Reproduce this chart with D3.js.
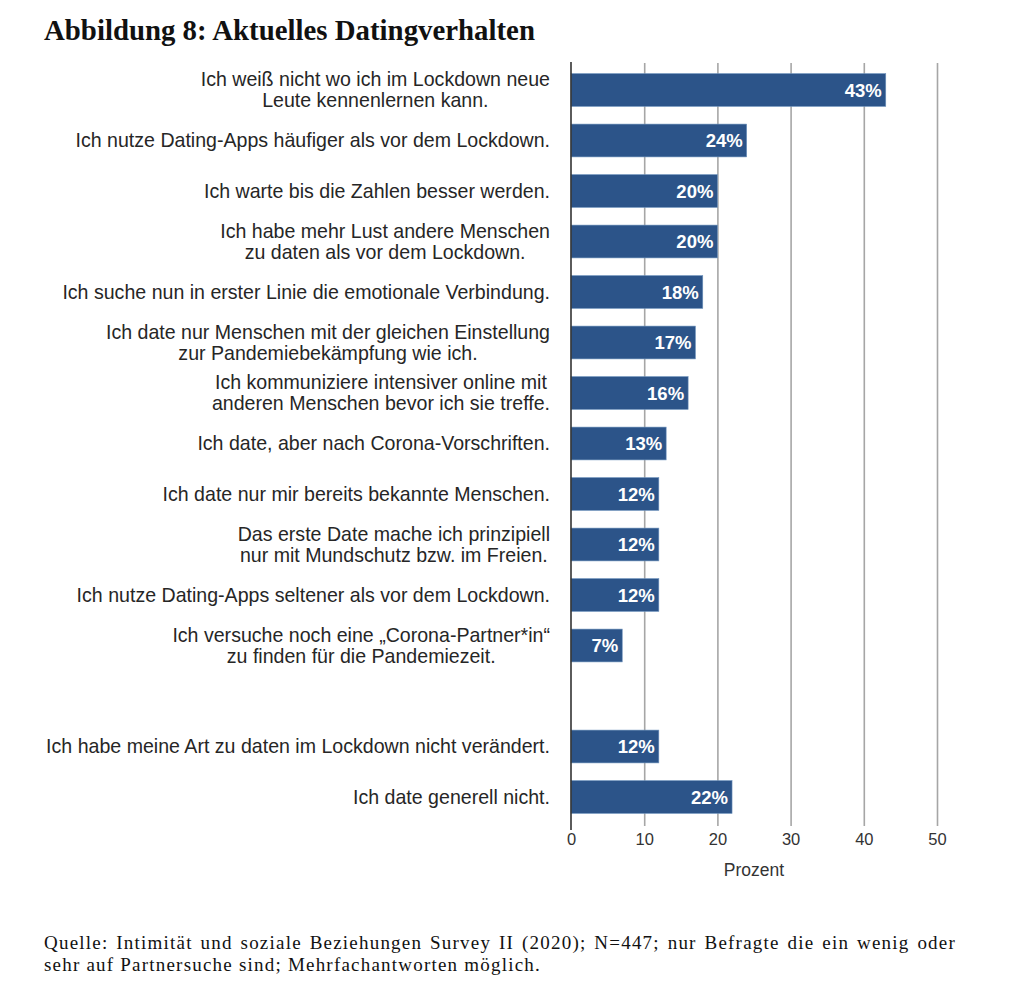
<!DOCTYPE html>
<html>
<head>
<meta charset="utf-8">
<script src="https://cdn.jsdelivr.net/npm/d3@7"></script>
<style>
  html, body { margin: 0; padding: 0; background: #fff; }
  svg { display: block; }
</style>
</head>
<body>
<svg id="chart" width="1024" height="998"></svg>
<script>
// ---- data ----
const titleText = "Abbildung 8: Aktuelles Datingverhalten";
const categories = [
  "Ich weiß nicht wo ich im Lockdown neue\nLeute kennenlernen kann.",
  "Ich nutze Dating-Apps häufiger als vor dem Lockdown.",
  "Ich warte bis die Zahlen besser werden.",
  "Ich habe mehr Lust andere Menschen\nzu daten als vor dem Lockdown.",
  "Ich suche nun in erster Linie die emotionale Verbindung.",
  "Ich date nur Menschen mit der gleichen Einstellung\nzur Pandemiebekämpfung wie ich.",
  "Ich kommuniziere intensiver online mit\nanderen Menschen bevor ich sie treffe.",
  "Ich date, aber nach Corona-Vorschriften.",
  "Ich date nur mir bereits bekannte Menschen.",
  "Das erste Date mache ich prinzipiell\nnur mit Mundschutz bzw. im Freien.",
  "Ich nutze Dating-Apps seltener als vor dem Lockdown.",
  "Ich versuche noch eine „Corona-Partner*in“\nzu finden für die Pandemiezeit.",
  "",
  "Ich habe meine Art zu daten im Lockdown nicht verändert.",
  "Ich date generell nicht."
];
const values = [43, 24, 20, 20, 18, 17, 16, 13, 12, 12, 12, 7, null, 12, 22];
const xTicks = [0, 10, 20, 30, 40, 50];
const xAxisTitle = "Prozent";
const footnoteLines = [
  "Quelle: Intimität und soziale Beziehungen Survey II (2020); N=447; nur Befragte die ein wenig oder",
  "sehr auf Partnersuche sind; Mehrfachantworten möglich."
];

// ---- layout ----
const svg = d3.select("#chart");
const barColor = "#2c5489";
const sans = "'Liberation Sans', Arial, Helvetica, sans-serif";
const serif = "'Liberation Serif', 'Times New Roman', serif";

const x = d3.scaleLinear().domain([0, 50]).range([571, 937]);
const slots = d3.range(categories.length);
const y = d3.scaleBand().domain(slots).range([64.75, 822.25])
  .paddingInner(0.35).paddingOuter(0.175);

// title
const title = svg.append("text")
  .attr("x", 44).attr("y", 40)
  .attr("font-family", serif).attr("font-weight", "bold")
  .attr("font-size", 22).attr("fill", "#111")
  .text(titleText);
{
  const w = title.node().getComputedTextLength();
  title.attr("font-size", 22 * 491 / w);
}

// gridlines
const grid = svg.append("g")
  .attr("transform", "translate(0,826)")
  .call(d3.axisBottom(x).tickValues(xTicks.slice(1)).tickSize(-763).tickFormat(""));
grid.select(".domain").remove();
grid.selectAll(".tick line").attr("stroke", "#a6a6a6").attr("stroke-width", 1.6);

// bars
const rows = slots.filter(i => values[i] !== null);
svg.append("g").selectAll("rect")
  .data(rows).join("rect")
  .attr("x", x(0))
  .attr("y", i => y(i))
  .attr("width", i => x(values[i]) - x(0))
  .attr("height", y.bandwidth())
  .attr("fill", barColor)
  .attr("stroke", "#6f93bd").attr("stroke-width", 0.6);

// value labels
svg.append("g").selectAll("text")
  .data(rows).join("text")
  .attr("x", i => x(values[i]) - 4)
  .attr("y", i => y(i) + y.bandwidth() / 2)
  .attr("dy", "0.36em")
  .attr("text-anchor", "end")
  .attr("font-family", sans).attr("font-weight", "bold")
  .attr("font-size", 18.5).attr("fill", "#fff")
  .text(i => values[i] + "%");

// zero axis line + x axis
const xAxis = svg.append("g")
  .attr("transform", "translate(0,826)")
  .call(d3.axisBottom(x).tickValues(xTicks).tickSize(0).tickPadding(7));
xAxis.attr("font-size", null).attr("font-family", null);
xAxis.select(".domain").remove();
xAxis.selectAll(".tick text")
  .style("font-family", sans).style("font-size", "16.5px").attr("fill", "#333");
svg.append("line")
  .attr("x1", x(0)).attr("x2", x(0)).attr("y1", 62).attr("y2", 830)
  .attr("stroke", "#333").attr("stroke-width", 1.6);

svg.append("text")
  .attr("x", (x(0) + x(50)) / 2).attr("y", 876)
  .attr("text-anchor", "middle")
  .attr("font-family", sans).attr("font-size", 17.5).attr("fill", "#333")
  .text(xAxisTitle);

// category labels
const labelG = svg.append("g")
  .attr("font-family", sans).attr("font-size", 16).attr("fill", "#262626");
{
  const probe = labelG.append("text").text(categories[1]);
  const w = probe.node().getComputedTextLength();
  probe.remove();
  labelG.attr("font-size", 16 * 475 / w);
}
const rightEdge = 550;
const lineGap = 21;
slots.forEach(i => {
  if (!categories[i]) return;
  const lines = categories[i].split("\n");
  const cy = y(i) + y.bandwidth() / 2;
  const t = labelG.append("text");
  const spans = lines.map((ln, k) => t.append("tspan")
    .attr("y", cy + (k - (lines.length - 1) / 2) * lineGap)
    .attr("dy", "0.35em")
    .text(ln));
  if (lines.length === 1) {
    t.attr("text-anchor", "end");
    spans.forEach(s => s.attr("x", rightEdge));
  } else {
    const maxW = d3.max(spans, s => s.node().getComputedTextLength());
    t.attr("text-anchor", "middle");
    spans.forEach(s => s.attr("x", rightEdge - maxW / 2));
  }
});

// footnote (line 1 justified)
const foot = svg.append("g")
  .attr("font-family", serif)
  .attr("font-size", 19).attr("fill", "#111");
const f2 = foot.append("text").attr("x", 44).attr("y", 971).text(footnoteLines[1]);
{
  const w = f2.node().getComputedTextLength();
  const n = footnoteLines[1].length;
  foot.attr("letter-spacing", Math.max(0, (497 - w) / n));
}
const f1 = foot.append("text").attr("x", 44).attr("y", 949).text(footnoteLines[0]);
{
  const w = f1.node().getComputedTextLength();
  const gaps = footnoteLines[0].split(" ").length - 1;
  f1.attr("word-spacing", Math.max(0, (912 - w) / gaps));
}
</script>
</body>
</html>
